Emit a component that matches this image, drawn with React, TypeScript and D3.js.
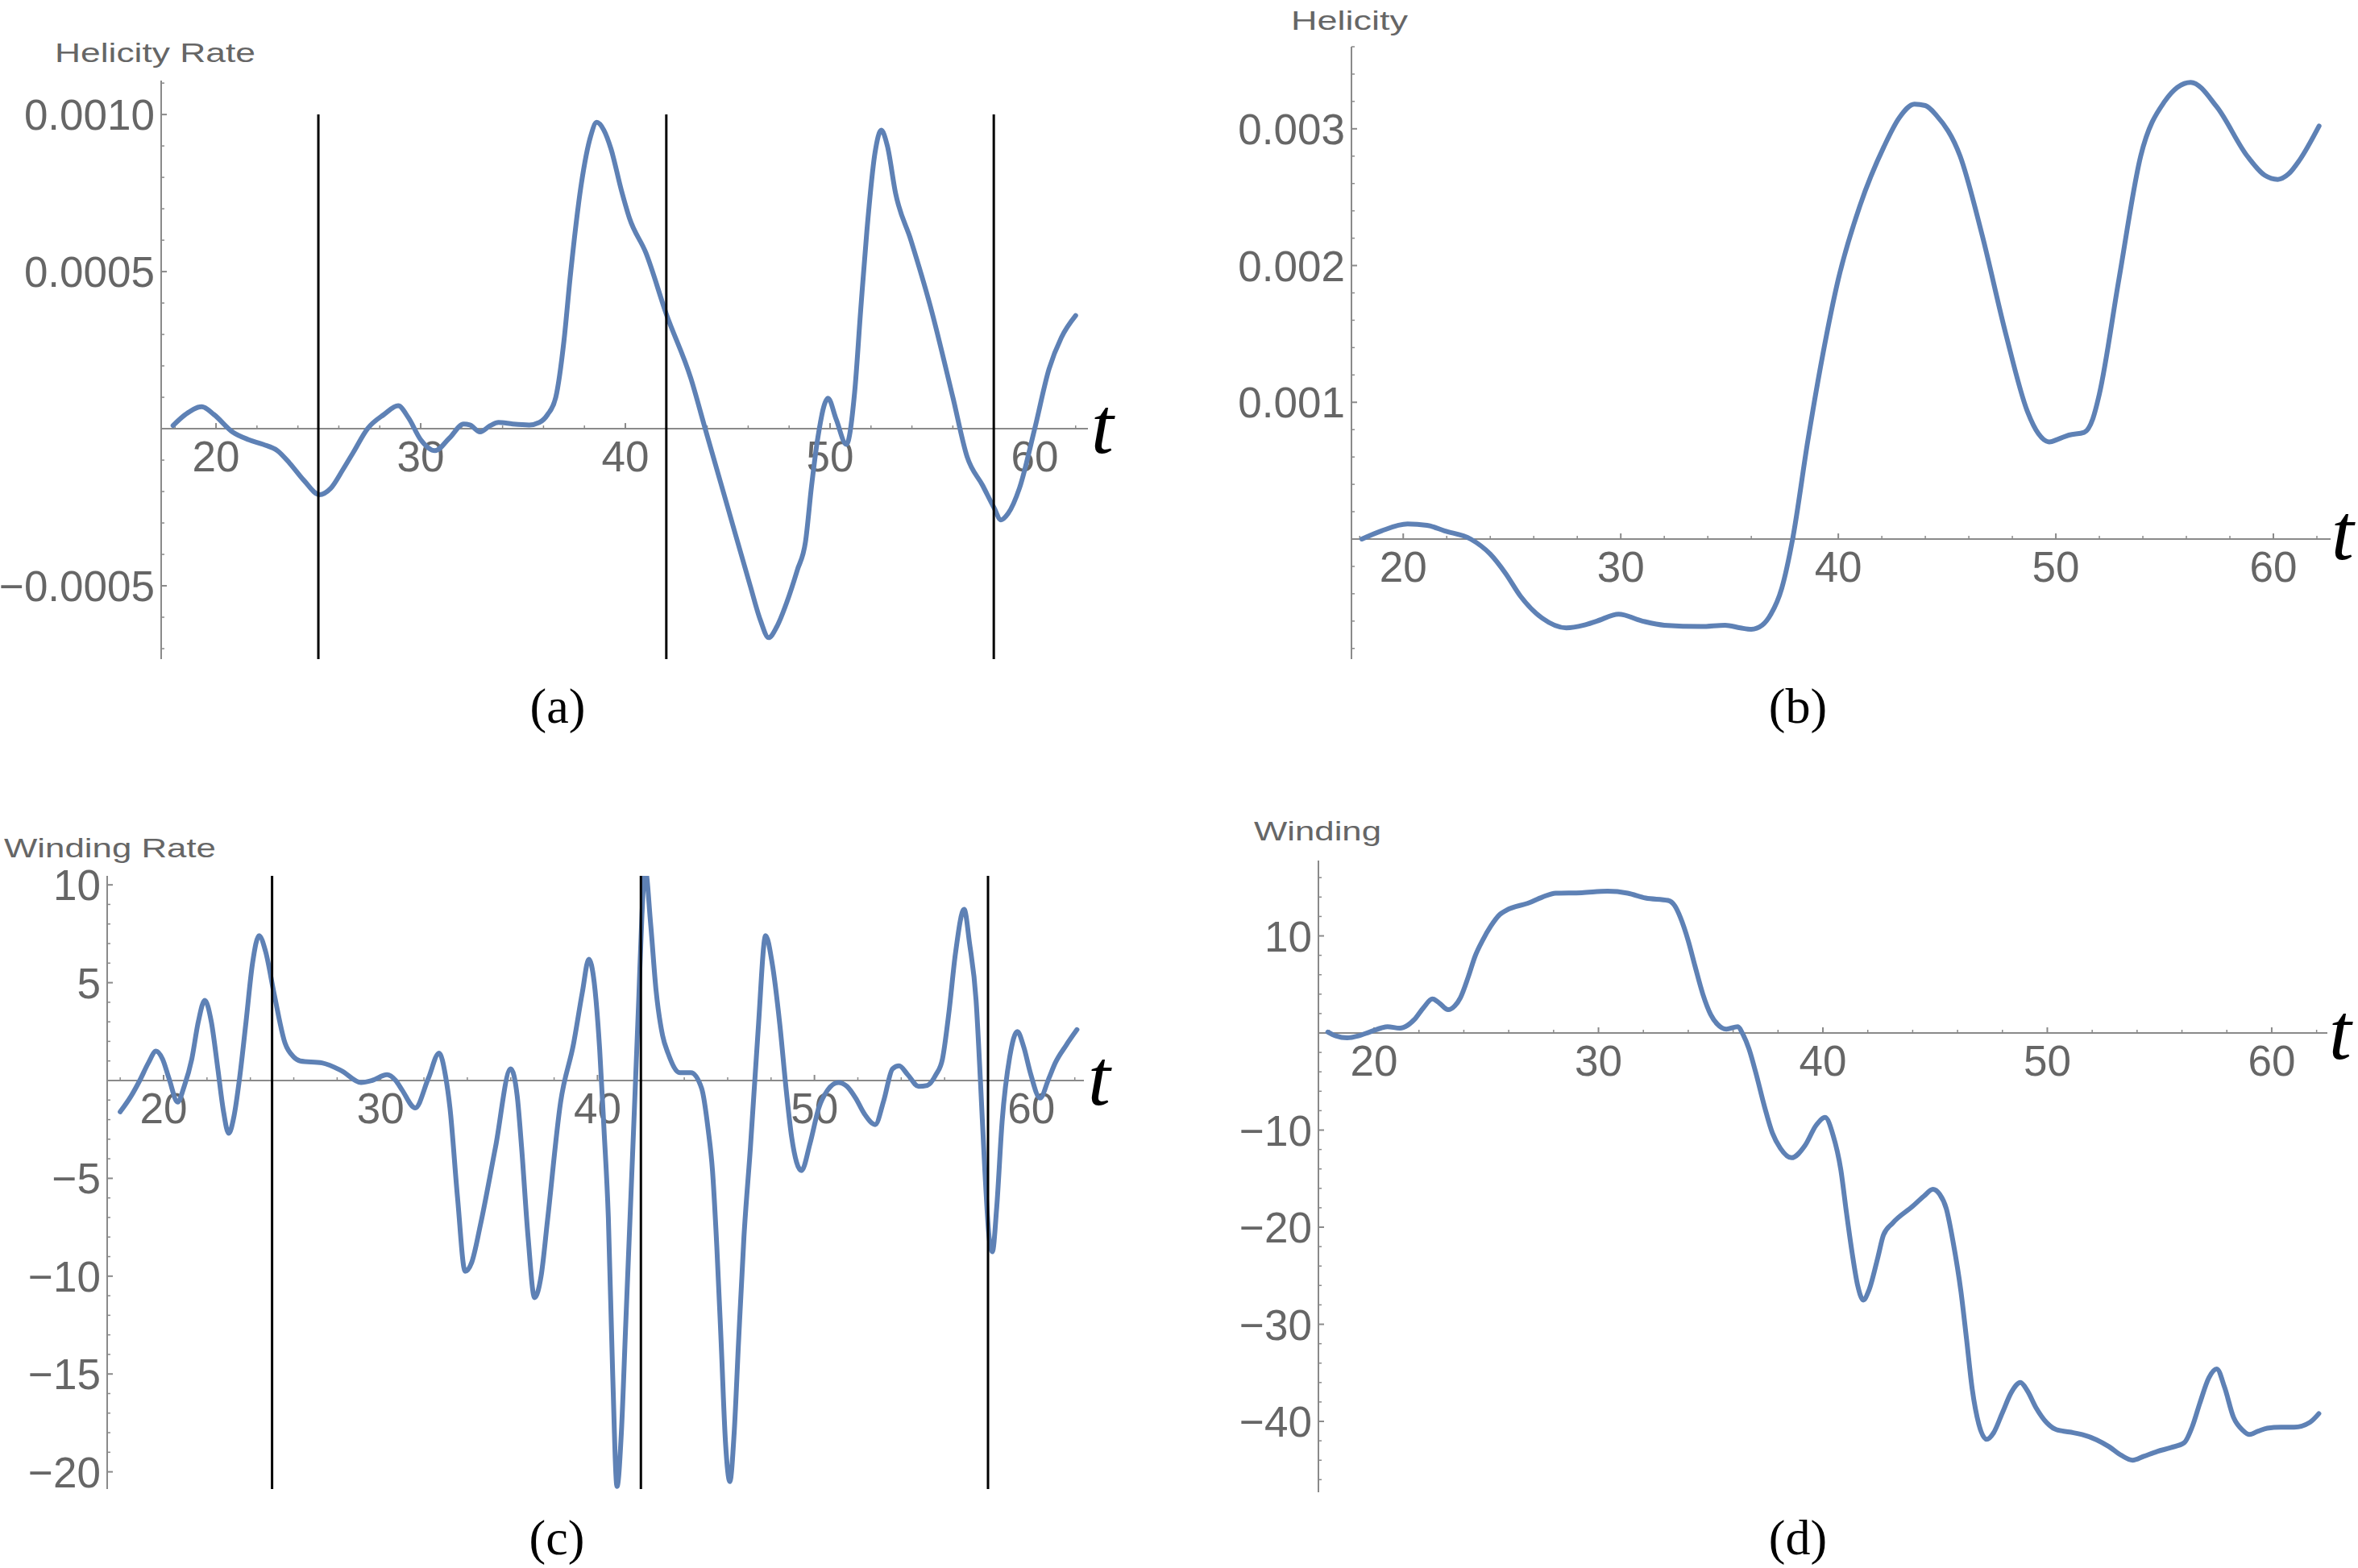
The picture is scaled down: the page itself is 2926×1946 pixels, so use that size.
import React from 'react';
import * as d3 from 'd3';

type Pt = [number, number];

// ---------- DATA ----------
// Helicity rate, in units of 1e-4
const helicityRate: Pt[] = [
  [17.9, 0.1], [18.5, 0.45], [19.3, 0.7], [19.9, 0.45], [20.8, -0.1], [21.6, -0.35], [22.3, -0.5],
  [23.0, -0.7], [23.6, -1.1], [24.3, -1.65], [25.05, -2.1], [25.6, -1.9], [26.2, -1.3], [26.7, -0.76],
  [27.4, 0], [28.2, 0.45], [28.9, 0.73], [29.4, 0.35], [30.0, -0.35], [30.7, -0.7], [31.4, -0.3],
  [32.1, 0.15], [32.4, 0.12], [32.9, -0.1], [33.4, 0.1], [33.8, 0.2], [34.5, 0.15], [35.3, 0.12],
  [35.8, 0.2], [36.2, 0.45], [36.6, 1.0], [37.0, 2.8], [37.3, 4.8], [37.85, 7.8], [38.3, 9.3],
  [38.6, 9.75], [38.95, 9.5], [39.3, 8.9], [39.8, 7.6], [40.2, 6.7], [41.0, 5.6], [42.0, 3.65],
  [43.2, 1.6], [43.9, 0], [45.0, -2.5], [46.1, -5.0], [46.6, -6.1], [47.0, -6.65], [47.4, -6.3],
  [47.9, -5.5], [48.4, -4.5], [48.8, -3.6], [49.1, -1.8], [49.4, -0.3], [49.9, 0.97], [50.3, 0.3],
  [50.8, -0.5], [51.2, 1.15], [51.5, 3.8], [51.8, 6.3], [52.2, 8.8], [52.5, 9.5], [52.8, 9.0],
  [53.2, 7.5], [53.95, 6.0], [54.9, 3.9], [56.0, 1.0], [56.7, -0.9], [57.45, -1.8], [58.0, -2.5],
  [58.35, -2.9], [58.7, -2.7], [59.25, -1.9], [60.0, 0], [60.7, 1.9], [61.3, 2.9], [62.0, 3.6],
];

// Helicity, in units of 1e-3
const helicity: Pt[] = [
  [18.1, 0], [19.0, 0.06], [20.2, 0.11], [21.1, 0.1], [21.9, 0.06], [23.1, 0], [24.0, -0.11],
  [24.7, -0.25], [25.4, -0.42], [26.4, -0.58], [27.5, -0.65], [28.3, -0.63], [28.9, -0.6],
  [29.9, -0.55], [31.0, -0.6], [32.0, -0.63], [33.7, -0.64], [34.8, -0.63], [35.5, -0.65],
  [36.0, -0.66], [36.5, -0.63], [36.9, -0.55], [37.4, -0.36], [37.9, 0], [38.6, 0.72], [39.3, 1.36],
  [40.0, 1.9], [41.0, 2.44], [42.1, 2.87], [42.8, 3.08], [43.5, 3.18], [44.0, 3.17], [44.5, 3.1],
  [45.6, 2.8], [46.6, 2.23], [47.7, 1.5], [48.7, 0.93], [49.2, 0.77], [49.7, 0.71], [50.1, 0.73],
  [50.6, 0.76], [51.3, 0.78], [51.7, 0.88], [52.0, 1.06], [52.9, 1.9], [53.9, 2.8], [55.0, 3.2],
  [56.2, 3.34], [57.4, 3.16], [58.8, 2.8], [59.6, 2.66], [60.2, 2.63], [60.7, 2.67], [61.2, 2.77],
  [62.1, 3.02],
];

const windingRate: Pt[] = [
  [18.0, -1.6], [18.5, -0.8], [18.9, 0], [19.3, 0.9], [19.65, 1.5], [19.95, 1.1], [20.25, 0.1],
  [20.65, -1.1], [20.95, -0.3], [21.3, 1.1], [21.6, 3.0], [21.9, 4.1], [22.2, 3.0], [22.5, 0.6],
  [22.75, -1.5], [23.0, -2.7], [23.25, -1.8], [23.5, 0.1], [23.8, 3.0], [24.1, 6.0], [24.4, 7.4],
  [24.7, 6.6], [25.1, 4.4], [25.6, 1.9], [26.0, 1.2], [26.3, 1.0], [27.3, 0.9], [28.2, 0.5],
  [29.1, -0.1], [29.6, 0.0], [30.3, 0.3], [30.7, 0.0], [31.0, -0.5], [31.6, -1.4], [32.2, 0.1],
  [32.7, 1.4], [33.0, 0.2], [33.2, -1.4], [33.55, -6.0], [33.9, -9.75], [34.2, -9.3], [34.6, -7.4],
  [35.3, -3.4], [36.0, 0.6], [36.3, -0.8], [36.5, -3.4], [36.8, -8.0], [37.1, -11.1], [37.4, -10.0],
  [37.7, -7.1], [38.3, -1.1], [38.9, 1.9], [39.3, 4.5], [39.6, 6.2], [39.85, 5.0], [40.1, 1.6],
  [40.3, -2.5], [40.5, -7.0], [40.7, -15.0], [40.9, -20.75], [41.1, -18], [41.3, -12.5], [41.5, -7.0],
  [41.7, -1.5], [41.9, 4.1], [42.05, 8.5], [42.2, 10.8], [42.45, 8.0], [42.7, 4.6], [43.0, 2.3],
  [43.25, 1.4], [43.8, 0.4], [44.3, 0.4], [44.8, -0.4], [45.1, -2.5], [45.3, -4.6], [45.5, -8.5],
  [45.7, -13.4], [45.9, -18.5], [46.1, -20.5], [46.3, -18], [46.5, -13.4], [46.75, -8.0],
  [47.05, -3.4], [47.4, 2.5], [47.75, 7.4], [48.05, 6.0], [48.4, 2.9], [48.7, -0.5], [48.95, -2.9],
  [49.4, -4.6], [49.8, -3.2], [50.2, -1.4], [50.6, -0.5], [51.1, -0.1], [51.5, -0.3], [51.9, -0.9],
  [52.3, -1.7], [52.8, -2.25], [53.2, -1.0], [53.6, 0.6], [53.9, 0.75], [54.3, 0.3], [54.8, -0.3],
  [55.2, -0.25], [55.6, 0.3], [55.9, 1.1], [56.2, 3.5], [56.5, 6.5], [56.9, 8.75], [57.15, 7.0],
  [57.45, 4.1], [57.65, 0.0], [57.85, -4.5], [58.05, -8.0], [58.2, -8.75], [58.4, -6.5],
  [58.65, -2.1], [59.0, 1.2], [59.35, 2.5], [59.65, 1.7], [59.95, 0.4], [60.4, -0.9], [60.8, 0.1],
  [61.1, 0.9], [61.6, 1.8], [62.1, 2.6],
];

const winding: Pt[] = [
  [17.94, 0.1], [18.3, -0.3], [18.8, -0.5], [19.3, -0.3], [19.8, 0.1], [20.3, 0.5], [20.6, 0.65],
  [21.15, 0.5], [21.5, 0.8], [21.8, 1.4], [22.2, 2.6], [22.6, 3.5], [22.9, 3.1], [23.3, 2.4],
  [23.6, 2.8], [23.85, 3.65], [24.2, 5.8], [24.5, 7.9], [24.85, 9.6], [25.2, 11], [25.6, 12.2],
  [25.9, 12.65], [26.9, 13.4], [27.5, 14.0], [28.1, 14.4], [29.25, 14.45], [30.4, 14.6], [31.3, 14.4],
  [32.1, 13.9], [33.1, 13.65], [33.4, 13.1], [33.65, 11.9], [34.0, 9.5], [34.3, 6.9], [34.65, 4.0],
  [35.0, 1.9], [35.3, 0.9], [35.7, 0.4], [36.2, 0.65], [36.45, -0.2], [36.7, -1.6], [37.0, -4.0],
  [37.4, -7.6], [37.75, -10.3], [38.1, -11.85], [38.6, -12.85], [39.2, -11.6], [39.7, -9.5],
  [40.1, -8.7], [40.45, -10.5], [40.8, -14.1], [41.05, -18.5], [41.3, -22.6], [41.55, -26],
  [41.8, -27.5], [42.05, -26.5], [42.45, -23.1], [42.7, -20.8], [43.1, -19.6], [44.0, -17.85],
  [44.5, -16.8], [44.9, -16.1], [45.2, -16.6], [45.5, -18.1], [45.8, -21.5], [46.15, -26.6],
  [46.4, -31.5], [46.65, -36.6], [46.95, -40.3], [47.3, -41.85], [47.6, -41.2], [48.0, -39.1],
  [48.4, -37.0], [48.8, -36], [49.1, -36.8], [49.5, -38.6], [50.0, -40.2], [50.4, -40.85],
  [51.0, -41.1], [51.55, -41.35], [52.2, -41.9], [52.75, -42.6], [53.3, -43.5], [53.8, -44],
  [54.3, -43.6], [54.9, -43.1], [55.5, -42.7], [56.1, -42.2], [56.45, -40.6], [56.8, -38.1],
  [57.2, -35.5], [57.55, -34.6], [57.9, -36.5], [58.3, -39.6], [58.7, -40.9], [59.0, -41.35],
  [59.4, -41.0], [59.8, -40.7], [60.4, -40.6], [61.0, -40.6], [61.7, -40.1], [62.1, -39.2],
];

// vertical event markers (t)
const eventTimes = [25, 42, 58];

// ticks
const xMajorTicks = [20, 30, 40, 50, 60];
const xTickLabels = ['20', '30', '40', '50', '60'];
const helicityRateTicks = [10, 5, -5];
const helicityRateTickLabels = ['0.0010', '0.0005', '\u22120.0005'];
const helicityTicks = [1, 2, 3];
const helicityTickLabels = ['0.001', '0.002', '0.003'];
const windingRateTicks = [10, 5, -5, -10, -15, -20];
const windingRateTickLabels = ['10', '5', '\u22125', '\u221210', '\u221215', '\u221220'];
const windingTicks = [10, -10, -20, -30, -40];
const windingTickLabels = ['10', '\u221210', '\u221220', '\u221230', '\u221240'];

// ---------- STYLE / LAYOUT ----------
const LINE_COLOR = '#5E81B5';
const AXIS_COLOR = '#8a8a8a';
const TEXT_COLOR = '#666666';
const SANS = '"Liberation Sans", Arial, sans-serif';
const SERIF = '"Liberation Serif", "Times New Roman", serif';

interface PanelCfg {
  id: string;
  data: Pt[];
  left: number; right: number; top: number; bottom: number;
  xDomain: [number, number];
  yDomain: [number, number];
  yTicks: number[];
  yTickLabels: string[];
  yMinorStep: number;
  title: string; titleX: number; titleY: number; titleW: number;
  caption: string; capX: number; capY: number;
  tX: number; tY: number;
  markers?: number[];
  markerRange?: [number, number];
}

const panels: PanelCfg[] = [
  {
    id: 'a', data: helicityRate,
    left: 200, right: 1350, top: 100, bottom: 818,
    xDomain: [17.32, 62.6], yDomain: [-7.333, 11.08],
    yTicks: helicityRateTicks, yTickLabels: helicityRateTickLabels, yMinorStep: 1,
    title: 'Helicity Rate', titleX: 68, titleY: 77, titleW: 249,
    caption: '(a)', capX: 692, capY: 897, tX: 1354, tY: 562,
    markers: eventTimes, markerRange: [-20, 10],
  },
  {
    id: 'b', data: helicity,
    left: 1677, right: 2892, top: 58, bottom: 818,
    xDomain: [17.62, 62.63], yDomain: [-0.878, 3.6],
    yTicks: helicityTicks, yTickLabels: helicityTickLabels, yMinorStep: 0.2,
    title: 'Helicity', titleX: 1602, titleY: 37, titleW: 145,
    caption: '(b)', capX: 2231, capY: 897, tX: 2893, tY: 694,
  },
  {
    id: 'c', data: windingRate,
    left: 133, right: 1345, top: 1087, bottom: 1848,
    xDomain: [17.4, 62.42], yDomain: [-20.88, 10.46],
    yTicks: windingRateTicks, yTickLabels: windingRateTickLabels, yMinorStep: 1,
    title: 'Winding Rate', titleX: 5, titleY: 1064, titleW: 263,
    caption: '(c)', capX: 691, capY: 1929, tX: 1350, tY: 1371,
    markers: eventTimes, markerRange: [-40, 40],
  },
  {
    id: 'd', data: winding,
    left: 1636, right: 2888, top: 1068, bottom: 1852,
    xDomain: [17.52, 62.48], yDomain: [-47.3, 17.76],
    yTicks: windingTicks, yTickLabels: windingTickLabels, yMinorStep: 2,
    title: 'Winding', titleX: 1556, titleY: 1043, titleW: 158,
    caption: '(d)', capX: 2231, capY: 1929, tX: 2890, tY: 1314,
  },
];

function Panel({ cfg }: { cfg: PanelCfg }) {
  const x = d3.scaleLinear().domain(cfg.xDomain).range([cfg.left, cfg.right]);
  const y = d3.scaleLinear().domain(cfg.yDomain).range([cfg.bottom, cfg.top]);
  const line = d3.line<Pt>().x((d) => x(d[0])).y((d) => y(d[1])).curve(d3.curveMonotoneX);
  const y0 = y(0);
  const xMinor = d3.range(Math.ceil(cfg.xDomain[0] / 2) * 2, cfg.xDomain[1], 2).filter((v) => !xMajorTicks.includes(v));
  const s = cfg.yMinorStep;
  const yMinor = d3
    .range(Math.ceil(cfg.yDomain[0] / s), Math.floor(cfg.yDomain[1] / s) + 1)
    .map((k) => +(k * s).toFixed(6))
    .filter((v) => v !== 0 && !cfg.yTicks.some((t) => Math.abs(t - v) < 1e-9));
  const clipId = `clip-${cfg.id}`;
  return (
    <g>
      <defs>
        <clipPath id={clipId}>
          <rect x={cfg.left} y={cfg.top} width={cfg.right - cfg.left} height={cfg.bottom - cfg.top} />
        </clipPath>
      </defs>
      {/* axes */}
      <line x1={cfg.left} x2={cfg.right} y1={y0} y2={y0} stroke={AXIS_COLOR} strokeWidth={2} />
      <line x1={cfg.left} x2={cfg.left} y1={cfg.top} y2={cfg.bottom} stroke={AXIS_COLOR} strokeWidth={2} />
      {xMajorTicks.map((t) => (
        <line key={'xM' + t} x1={x(t)} x2={x(t)} y1={y0} y2={y0 - 7} stroke={AXIS_COLOR} strokeWidth={2} />
      ))}
      {xMinor.map((t) => (
        <line key={'xm' + t} x1={x(t)} x2={x(t)} y1={y0} y2={y0 - 4} stroke={AXIS_COLOR} strokeWidth={1.5} />
      ))}
      {cfg.yTicks.map((v) => (
        <line key={'yM' + v} x1={cfg.left} x2={cfg.left + 7} y1={y(v)} y2={y(v)} stroke={AXIS_COLOR} strokeWidth={2} />
      ))}
      {yMinor.map((v) => (
        <line key={'ym' + v} x1={cfg.left} x2={cfg.left + 4} y1={y(v)} y2={y(v)} stroke={AXIS_COLOR} strokeWidth={1.5} />
      ))}
      {xMajorTicks.map((t, i) => (
        <text key={'xl' + t} x={x(t)} y={y0 + 53} textAnchor="middle" fontFamily={SANS} fontSize={53} fill={TEXT_COLOR}>
          {xTickLabels[i]}
        </text>
      ))}
      {cfg.yTicks.map((v, i) => (
        <text key={'yl' + v} x={cfg.left - 8} y={y(v) + 19} textAnchor="end" fontFamily={SANS} fontSize={53} fill={TEXT_COLOR}>
          {cfg.yTickLabels[i]}
        </text>
      ))}
      {/* curve */}
      <g clipPath={`url(#${clipId})`}>
        <path d={line(cfg.data) || ''} fill="none" stroke={LINE_COLOR} strokeWidth={6} strokeLinejoin="round" strokeLinecap="round" />
        {cfg.markers &&
          cfg.markers.map((t) => (
            <line key={'mk' + t} x1={x(t)} x2={x(t)} y1={y(cfg.markerRange![0])} y2={y(cfg.id === 'a' ? 10 : cfg.markerRange![1])} stroke="#000" strokeWidth={3} />
          ))}
      </g>
      {/* labels */}
      <text x={cfg.titleX} y={cfg.titleY} fontFamily={SANS} fontSize={33} fill={TEXT_COLOR} textLength={cfg.titleW} lengthAdjust="spacingAndGlyphs">
        {cfg.title}
      </text>
      <text x={cfg.tX} y={cfg.tY} fontFamily={SERIF} fontStyle="italic" fontSize={100} fill="#000">
        t
      </text>
      <text x={cfg.capX} y={cfg.capY} textAnchor="middle" fontFamily={SERIF} fontSize={62} fill="#000">
        {cfg.caption}
      </text>
    </g>
  );
}

export default function App() {
  return (
    <svg width={2926} height={1946} style={{ position: 'absolute', left: 0, top: 0, background: '#fff' }}>
      <rect x={0} y={0} width={2926} height={1946} fill="#fff" />
      {panels.map((p) => (
        <Panel key={p.id} cfg={p} />
      ))}
    </svg>
  );
}
